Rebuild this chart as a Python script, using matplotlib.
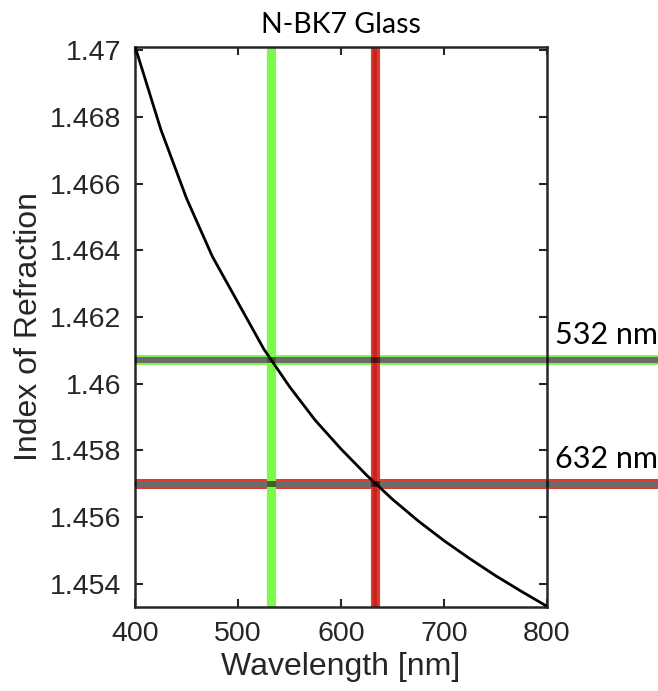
import matplotlib
matplotlib.use('Agg')
import matplotlib.pyplot as plt
from matplotlib.ticker import FuncFormatter

# refractive index, every 25 nm
wavelength = [400, 425, 450, 475, 500, 525, 550, 575, 600,
              625, 650, 675, 700, 725, 750, 775, 800]
index = [1.47012, 1.46763, 1.46556, 1.46382, 1.46243, 1.46104, 1.45991, 1.45890, 1.45804,
         1.45725, 1.45653, 1.45588, 1.45529, 1.45475, 1.45424, 1.45377, 1.45332]

laser_nm = [532, 632.8]
laser_n = [1.4607, 1.4570]
laser_labels = ['532 nm', '632 nm']
laser_colors = ['#7df94b', '#e23a30']

yticks = [1.454, 1.456, 1.458, 1.46, 1.462, 1.464, 1.466, 1.468, 1.47]
xticks = [400, 500, 600, 700, 800]

plt.rcParams['font.family'] = ['Liberation Sans', 'DejaVu Sans']
ink = '#262626'

fig = plt.figure(figsize=(6.58, 6.91), dpi=100)
ax = fig.add_axes([0.2052, 0.1216, 0.6261, 0.8104])

# horizontal markers: coloured rim, grey core, running past the axes
for n, c in zip(laser_n, laser_colors):
    ax.plot([400, 1000], [n, n], color=c, lw=7.2, zorder=1, clip_on=False,
            solid_capstyle='butt')
    ax.plot([400, 1000], [n, n], color='white', lw=4.3, zorder=1.5, clip_on=False,
            solid_capstyle='butt')
    ax.plot([400, 1000], [n, n], color='black', alpha=0.58, lw=4.3, zorder=3,
            clip_on=False, solid_capstyle='butt')

# vertical markers
for x, c in zip(laser_nm, laser_colors):
    ax.axvline(x, color=c, lw=6.6, zorder=2)
ax.axvline(laser_nm[1], color='#c4261f', lw=3, zorder=2.1)

ax.plot(wavelength, index, color='black', lw=2, zorder=4)

for n, lab in zip(laser_n, laser_labels):
    ax.text(807.5, n + 0.00048, lab, fontsize=22, family='Lato', color='black',
            va='baseline', ha='left', clip_on=False)

ax.set_xlim(400, 800)
ax.set_ylim(1.4533, 1.4701)
ax.set_xticks(xticks)
ax.set_yticks(yticks)
ax.yaxis.set_major_formatter(FuncFormatter(lambda v, p: f'{v:.3f}'.rstrip('0')))
ax.tick_params(direction='in', length=6, width=1.5, top=True, right=True,
               labelsize=20.5, colors=ink, pad=10)
for s in ax.spines.values():
    s.set_linewidth(1.8)
    s.set_color(ink)

ax.set_xlabel('Wavelength [nm]', fontsize=23, color=ink)
ax.set_ylabel('Index of Refraction', fontsize=23, color=ink)
ax.set_title('N-BK7 Glass', family='Lato', fontsize=20.5, color='black', pad=10)

fig.savefig('out.png', dpi=100)
